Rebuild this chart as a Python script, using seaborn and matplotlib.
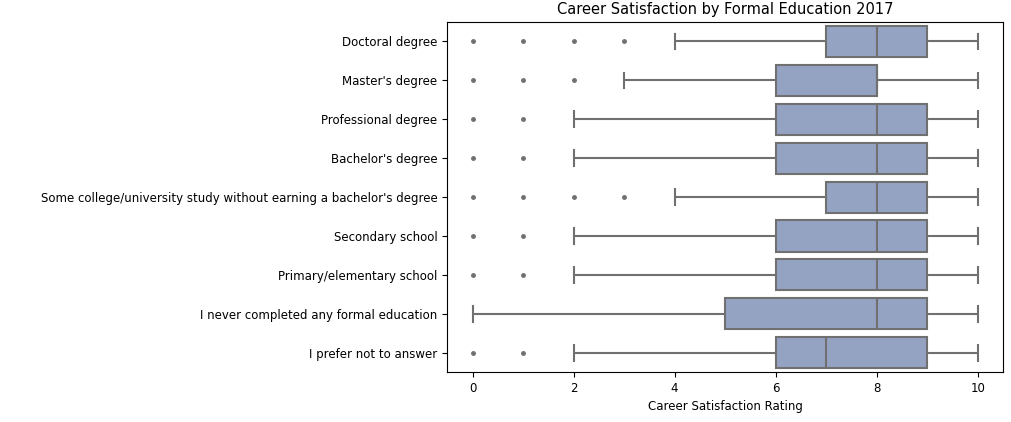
import numpy as np
import pandas as pd
import matplotlib
matplotlib.use("Agg")
import matplotlib.pyplot as plt
import seaborn as sns

ratings = list(range(11))
education = [
    "Doctoral degree",
    "Master's degree",
    "Professional degree",
    "Bachelor's degree",
    "Some college/university study without earning a bachelor's degree",
    "Secondary school",
    "Primary/elementary school",
    "I never completed any formal education",
    "I prefer not to answer",
]
# respondents per rating 0..10 (approximate, read from box stats)
doctoral = [1, 1, 1, 1, 1, 1, 1, 10, 10, 12, 5]
masters = [1, 1, 1, 1, 1, 2, 10, 10, 25, 4, 3]
professional = [1, 1, 1, 1, 2, 3, 10, 10, 12, 15, 5]
bachelors = [1, 1, 1, 1, 2, 3, 10, 10, 12, 15, 5]
some_college = [1, 1, 1, 1, 1, 1, 1, 10, 10, 12, 5]
secondary = [1, 1, 1, 1, 2, 3, 10, 10, 12, 15, 5]
primary = [1, 1, 1, 1, 2, 3, 10, 10, 12, 15, 5]
never = [2, 1, 1, 1, 1, 4, 2, 1, 6, 6, 2]
no_answer = [1, 1, 1, 1, 2, 3, 10, 15, 7, 15, 5]

counts = [doctoral, masters, professional, bachelors, some_college,
          secondary, primary, never, no_answer]
rows = []
for edu, c in zip(education, counts):
    for r, n in zip(ratings, c):
        rows.extend([(edu, r)] * n)
df = pd.DataFrame(rows, columns=["FormalEducation", "CareerSatisfaction"])

fig, ax = plt.subplots(figsize=(10.12, 4.22), dpi=100)
sns.boxplot(data=df, x="CareerSatisfaction", y="FormalEducation", order=education,
            color="#8da0cb", saturation=0.75, linewidth=1.5, width=0.8,
            linecolor="#707070",
            flierprops=dict(marker="o", markersize=2.5, markerfacecolor="#707070",
                            markeredgecolor="#707070"), ax=ax)
ax.set_title("Career Satisfaction by Formal Education 2017", fontsize=10.5)
ax.set_xlabel("Career Satisfaction Rating", fontsize=8.5)
ax.set_ylabel("")
ax.tick_params(labelsize=8.5)
plt.subplots_adjust(left=0.442, right=0.991, top=0.948, bottom=0.118)
fig.savefig("out.png", dpi=100)
